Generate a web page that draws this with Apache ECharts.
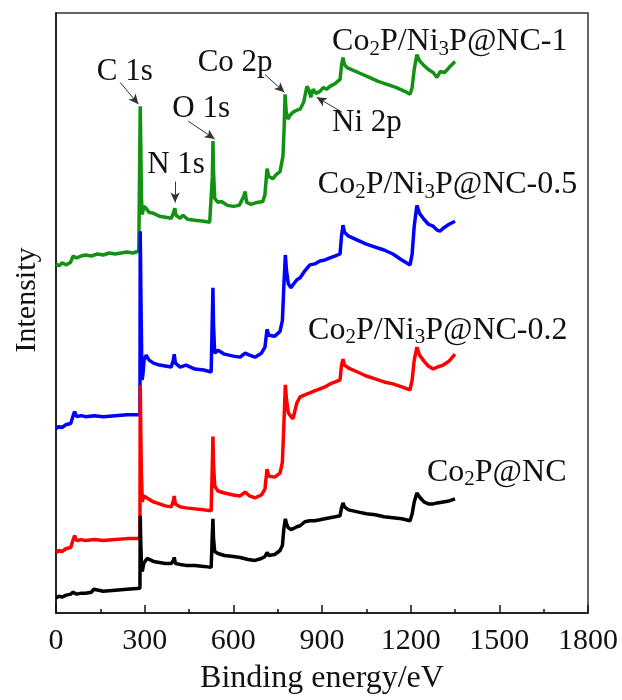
<!DOCTYPE html>
<html>
<head>
<meta charset="utf-8">
<script src="https://cdn.jsdelivr.net/npm/echarts@6/dist/echarts.min.js"></script>
<style>html,body{margin:0;padding:0;background:#fff}#c{width:622px;height:700px}</style>
</head>
<body>
<div id="c"></div>
<script>
// Binding energy (eV), stacked intensity (a.u.)
var seriesNames = ['Co2P/Ni3P@NC-1', 'Co2P/Ni3P@NC-0.5', 'Co2P/Ni3P@NC-0.2', 'Co2P@NC'];
var xTicks = [0, 300, 600, 900, 1200, 1500, 1800];

var nc1 = [[0,352],[10,350],[20,353],[35,351],[50,354],[58,360],[63,362],[70,358],[85,360],[100,361],[120,360],[140,362],[160,361],[180,363],[200,362],[220,363],[240,364],[260,363],[280,365],[284,366],[285,511],[287,470],[289,420],[292,402],[297,410],[305,408],[315,404],[330,403],[350,400],[370,399],[390,398],[398,404],[402,408],[406,401],[420,398],[430,401],[445,397],[470,396],[500,395],[520,394],[526,396],[529,440],[531,476],[533,445],[537,418],[548,414],[560,415],[580,411],[600,410],[620,411],[635,420],[640,425],[645,414],[660,412],[680,414],[700,415],[707,422],[714,448],[720,440],[734,438],[745,442],[758,445],[768,461],[772,490],[775,523],[779,505],[785,498],[792,502],[802,505],[815,507],[826,508],[838,515],[849,531],[855,528],[862,520],[870,528],[880,524],[893,526],[905,530],[915,528],[927,531],[945,534],[961,538],[966,552],[971,560],[976,553],[985,550],[1000,548],[1030,544],[1060,540],[1090,536],[1120,533],[1150,530],[1180,526],[1198,523],[1205,530],[1212,548],[1221,563],[1230,557],[1245,552],[1260,548],[1276,545],[1289,540],[1300,546],[1315,545],[1330,550],[1350,556]];

var nc05 = [[0,186],[10,188],[20,187],[35,190],[50,191],[58,199],[63,203],[70,198],[85,199],[100,198],[130,199],[160,198],[200,199],[240,200],[284,200],[285,385],[287,330],[289,280],[291,235],[294,240],[298,255],[305,260],[315,255],[330,252],[350,250],[370,249],[390,248],[397,255],[400,261],[404,252],[420,248],[440,250],[470,246],[500,245],[525,243],[529,300],[531,328],[533,290],[537,262],[548,265],[570,261],[600,259],[623,258],[640,262],[655,260],[673,258],[695,262],[707,268],[714,286],[720,280],[740,279],[758,284],[766,295],[771,330],[776,361],[780,345],[786,332],[795,328],[802,331],[815,336],[826,338],[842,345],[859,351],[875,352],[893,355],[910,356],[927,358],[945,360],[961,362],[966,380],[971,391],[976,384],[990,380],[1020,376],[1050,372],[1080,369],[1110,366],[1140,362],[1170,356],[1198,351],[1205,362],[1212,390],[1221,411],[1230,403],[1245,397],[1260,392],[1276,390],[1290,386],[1299,385],[1310,388],[1330,392],[1350,395]];

var nc02 = [[0,61],[10,63],[20,62],[35,65],[50,66],[58,74],[63,78],[70,73],[85,74],[100,73],[130,74],[160,73],[200,74],[240,75],[284,75],[285,230],[287,180],[289,140],[292,112],[297,118],[308,116],[330,112],[350,110],[370,108],[390,107],[397,113],[400,118],[404,110],[420,107],[440,106],[470,105],[500,104],[525,103],[529,150],[531,178],[533,150],[537,128],[548,123],[570,121],[600,119],[623,118],[640,122],[655,118],[673,116],[695,119],[707,125],[714,145],[720,138],[740,137],[758,141],[766,152],[771,190],[776,230],[780,215],[786,202],[795,198],[802,196],[815,212],[826,218],[842,220],[859,222],[875,224],[893,226],[910,228],[927,231],[945,233],[961,235],[966,250],[971,256],[976,250],[990,247],[1020,243],[1050,239],[1080,236],[1110,233],[1140,231],[1170,228],[1198,225],[1205,235],[1212,255],[1221,268],[1230,260],[1245,254],[1260,249],[1276,246],[1290,248],[1310,250],[1330,254],[1350,261]];

var co2p = [[0,15],[10,17],[20,16],[35,18],[50,19],[58,21],[63,22],[70,19],[85,20],[100,20],[120,21],[128,24],[134,22],[160,22],[200,23],[240,24],[284,25],[285,98],[287,70],[289,50],[292,42],[297,50],[308,55],[330,52],[350,51],[370,50],[390,50],[397,53],[400,56],[404,50],[420,49],[440,48],[470,48],[500,47],[525,46],[529,80],[531,95],[533,75],[537,62],[548,60],[570,58],[600,57],[623,56],[650,54],[673,53],[695,55],[707,57],[714,61],[720,58],[740,59],[758,63],[766,68],[771,85],[776,95],[780,90],[786,86],[795,84],[802,85],[815,87],[826,88],[842,92],[859,93],[875,93],[893,94],[910,95],[927,96],[945,97],[961,98],[966,106],[971,111],[976,107],[990,104],[1020,102],[1050,100],[1080,99],[1110,97],[1140,96],[1170,95],[1198,93],[1205,100],[1212,112],[1221,121],[1230,117],[1245,112],[1260,110],[1276,110],[1290,111],[1310,112],[1330,113],[1350,115]];

// Peak annotations: text, label position, arrow start, arrow end (data coords)
var peakLabels = ['C 1s', 'O 1s', 'N 1s', 'Co 2p', 'Ni 2p'];
var peakLabelPos = [[233,546],[491,508],[406,452],[606,555],[1052,494]];
var arrowFrom = [[217,535],[447,496],[403,435],[707,543],[968,505]];
var arrowTo = [[279,513],[537,478],[403,414],[773,525],[882,520]];

// Series name label positions (left edge, middle)
var nameLabelPos = [[934,576],[886,432],[853,285],[1255,142]];
var nameRich = [
  '{n|Co}{s|2}{n|P/Ni}{s|3}{n|P@NC-1}',
  '{n|Co}{s|2}{n|P/Ni}{s|3}{n|P@NC-0.5}',
  '{n|Co}{s|2}{n|P/Ni}{s|3}{n|P@NC-0.2}',
  '{n|Co}{s|2}{n|P@NC}'
];

var FONT = '"Liberation Serif", "Times New Roman", serif';
var colors = ['#129212', '#0000ff', '#ff0000', '#000000'];
var datasets = [nc1, nc05, nc02, co2p];

var chart = echarts.init(document.getElementById('c'), null, {renderer: 'canvas'});

var series = datasets.map(function (d, i) {
  return {
    name: seriesNames[i],
    type: 'line',
    data: d,
    showSymbol: false,
    symbol: 'none',
    smooth: false,
    lineStyle: {color: colors[i], width: 3.5},
    z: 2 + i,
    silent: true,
    markPoint: {
      symbol: 'circle',
      symbolSize: 0,
      silent: true,
      data: [{
        coord: nameLabelPos[i],
        label: {
          show: true,
          position: [0, 0],
          align: 'left',
          verticalAlign: 'middle',
          formatter: nameRich[i],
          rich: {
            n: {fontFamily: FONT, fontSize: 32, color: '#111', lineHeight: 36, verticalAlign: 'middle'},
            s: {fontFamily: FONT, fontSize: 21, color: '#111', lineHeight: 20, verticalAlign: 'bottom'}
          }
        }
      }]
    }
  };
});

series.push({
  name: 'annotations',
  type: 'line',
  data: [],
  silent: true,
  z: 10,
  markLine: {
    silent: true,
    animation: false,
    symbol: ['none', 'arrow'],
    symbolSize: [7, 10],
    label: {show: false},
    lineStyle: {color: '#333', width: 1, type: 'solid'},
    emphasis: {disabled: true},
    data: arrowFrom.map(function (a, i) {
      return [{coord: a}, {coord: arrowTo[i]}];
    })
  },
  markPoint: {
    symbol: 'circle',
    symbolSize: 0,
    silent: true,
    data: peakLabels.map(function (t, i) {
      return {
        coord: peakLabelPos[i],
        label: {
          show: true, position: [0, 0], align: 'center', verticalAlign: 'middle',
          formatter: t, fontFamily: FONT, fontSize: 31, color: '#111'
        }
      };
    })
  }
});

chart.setOption({
  animation: false,
  backgroundColor: '#fff',
  grid: {left: 56, right: 34, top: 13, bottom: 82, show: true, borderColor: '#333', borderWidth: 1.5, backgroundColor: 'transparent'},
  xAxis: {
    type: 'value', min: 0, max: 1800, interval: 300,
    name: 'Binding energy/eV', nameLocation: 'middle', nameGap: 50,
    nameTextStyle: {fontFamily: FONT, fontSize: 32, color: '#111'},
    axisLine: {show: true, lineStyle: {color: '#111', width: 1.5}},
    axisTick: {show: true, inside: true, length: 8, lineStyle: {color: '#111', width: 1.5}},
    minorTick: {show: true, splitNumber: 2, length: 4, lineStyle: {color: '#111', width: 1.5}},
    axisLabel: {fontFamily: FONT, fontSize: 30, color: '#111', margin: 13,
      formatter: function (v) { return xTicks.indexOf(v) >= 0 ? String(v) : ''; }},
    splitLine: {show: false}
  },
  yAxis: {
    type: 'value', min: 0, max: 605,
    name: 'Intensity', nameLocation: 'middle', nameGap: 14,
    nameTextStyle: {fontFamily: FONT, fontSize: 30, color: '#111', padding: [0, 0, 0, 26]},
    axisLine: {show: true, lineStyle: {color: '#111', width: 1.5}},
    axisTick: {show: false},
    axisLabel: {show: false},
    splitLine: {show: false}
  },
  series: series
});
</script>
</body>
</html>
